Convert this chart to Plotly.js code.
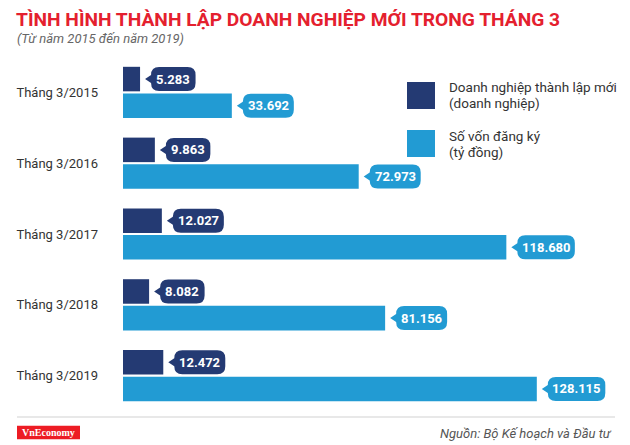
<!DOCTYPE html>
<html>
<head>
<meta charset="utf-8">
<script src="https://cdn.plot.ly/plotly-3.0.1.min.js"></script>
<style>
  html, body { margin: 0; padding: 0; background: #fff; }
  #chart { width: 630px; height: 445px; }
</style>
</head>
<body>
<div id="chart"></div>
<script>
// du lieu
const years = ['Tháng 3/2015', 'Tháng 3/2016', 'Tháng 3/2017', 'Tháng 3/2018', 'Tháng 3/2019'];
const newFirms = [5283, 9863, 12027, 8082, 12472];      // doanh nghiep
const capital = [33692, 72973, 118680, 81156, 128115];  // ty dong
const legendLabels = [['Doanh nghiệp thành lập mới', '(doanh nghiệp)'], ['Số vốn đăng ký', '(tỷ đồng)']];

const darkBlue = '#243a73';
const lightBlue = '#229bd3';
const red = '#e4202e';

// khung ve (pixel)
const L = 123, R = 10, T = 57, B = 34;
const W = 630 - L - R, H = 445 - T - B;
const px = x => (x - L) / W;
const py = y => (445 - B - y) / H;

function fmt(v) {
  return String(v).replace(/\B(?=(\d{3})+(?!\d))/g, '.');
}

// callout bo tron co mui nhon ben trai, toa do pixel tinh tu dau thanh
function calloutPath(w, dy) {
  const x0 = 11, x1 = 11 + w, tip = 5, hh = 12, r = 8;
  const top = dy + hh, bot = dy - hh;
  return `M${x0 + r},${top} L${x1 - r},${top} Q${x1},${top} ${x1},${top - r} ` +
    `L${x1},${bot + r} Q${x1},${bot} ${x1 - r},${bot} L${x0 + r},${bot} ` +
    `Q${x0},${bot} ${x0},${bot + r} L${x0},${dy - 4} L${tip},${dy} L${x0},${dy + 4} ` +
    `L${x0},${top - r} Q${x0},${top} ${x0 + r},${top} Z`;
}

const shapes = [];
const annotations = [];

function addCallouts(values, color, dy) {
  values.forEach((v, i) => {
    const txt = fmt(v);
    const w = 6.5 * txt.length + 12;
    shapes.push({
      type: 'path', xref: 'x', yref: 'y',
      xsizemode: 'pixel', ysizemode: 'pixel',
      xanchor: v, yanchor: years[i],
      path: calloutPath(w, dy),
      fillcolor: color, line: { width: 0 }, layer: 'above'
    });
    annotations.push({
      x: v, y: years[i], xref: 'x', yref: 'y',
      xanchor: 'center', yanchor: 'middle',
      xshift: 11 + w / 2, yshift: dy,
      text: txt, showarrow: false,
      font: { family: 'Roboto', size: 13, color: '#fff', weight: 700 }
    });
  });
}
addCallouts(newFirms, darkBlue, 13.3);
addCallouts(capital, lightBlue, -13.3);

// chu giai
[[darkBlue, 82, 109, 87.5], [lightBlue, 130, 157, 136]].forEach(([c, y0, y1, ty], k) => {
  shapes.push({
    type: 'rect', xref: 'paper', yref: 'paper',
    x0: px(407), x1: px(435), y0: py(y1), y1: py(y0),
    fillcolor: c, line: { width: 0 }
  });
  legendLabels[k].forEach((t, j) => {
    annotations.push({
      x: px(447), y: py(ty + j * 15.5), xref: 'paper', yref: 'paper',
      xanchor: 'left', yanchor: 'middle', text: t, showarrow: false,
      font: { family: 'Roboto', size: 13.5, color: '#333' }
    });
  });
});

// phu de, nguon, logo
annotations.push({
  x: px(15), y: py(38), xref: 'paper', yref: 'paper', xanchor: 'left', yanchor: 'middle',
  text: '<i>(Từ năm 2015 đến năm 2019)</i>', showarrow: false,
  font: { family: 'Roboto', size: 13, color: '#666' }
});
annotations.push({
  x: px(614), y: py(433), xref: 'paper', yref: 'paper', xanchor: 'right', yanchor: 'middle',
  text: '<i>Nguồn: Bộ Kế hoạch và Đầu tư</i>', showarrow: false,
  font: { family: 'Roboto', size: 13, color: '#555' }
});
shapes.push({
  type: 'line', xref: 'paper', yref: 'paper',
  x0: px(17), x1: px(615), y0: py(417), y1: py(417),
  line: { color: '#d2d2d2', width: 1.2 }
});
shapes.push({
  type: 'rect', xref: 'paper', yref: 'paper',
  x0: px(17), x1: px(80), y0: py(439.3), y1: py(425.7),
  fillcolor: '#ed1c24', line: { width: 0 }
});
annotations.push({
  x: px(48.5), y: py(432.5), xref: 'paper', yref: 'paper', xanchor: 'center', yanchor: 'middle',
  text: '<b>VnEconomy</b>', showarrow: false,
  font: { family: 'Liberation Serif', size: 10, color: '#fff' }
});

const data = [
  {
    type: 'bar', orientation: 'h', name: 'Doanh nghiệp thành lập mới',
    y: years, x: newFirms, marker: { color: darkBlue }, hoverinfo: 'skip'
  },
  {
    type: 'bar', orientation: 'h', name: 'Số vốn đăng ký',
    y: years, x: capital, marker: { color: lightBlue }, hoverinfo: 'skip'
  }
];

const layout = {
  width: 630, height: 445,
  margin: { l: L, r: R, t: T, b: B },
  paper_bgcolor: '#fff', plot_bgcolor: '#fff',
  showlegend: false,
  barmode: 'group', bargap: 0.247, bargroupgap: 0.08,
  title: {
    text: 'TÌNH HÌNH THÀNH LẬP DOANH NGHIỆP MỚI TRONG THÁNG 3',
    font: { family: 'Roboto', size: 19.2, color: red, weight: 700 },
    xref: 'container', yref: 'container', x: 16 / 630, xanchor: 'left',
    y: 1 - 19.5 / 445, yanchor: 'middle'
  },
  xaxis: {
    range: [0, W / 0.00323], showgrid: false, zeroline: false,
    showticklabels: false, showline: false, fixedrange: true
  },
  yaxis: {
    autorange: 'reversed', showgrid: false, zeroline: false, showline: false,
    ticks: '', ticklabelstandoff: 24,
    tickfont: { family: 'Roboto', size: 13, color: '#333' }, fixedrange: true
  },
  shapes: shapes,
  annotations: annotations,
  font: { family: 'Roboto' }
};

Plotly.newPlot('chart', data, layout, { displayModeBar: false, responsive: false });
</script>
</body>
</html>
